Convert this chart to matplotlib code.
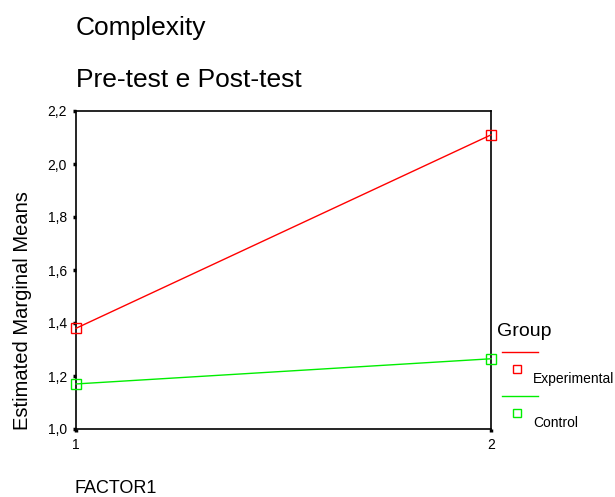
import numpy as np
import matplotlib.pyplot as plt
from matplotlib.lines import Line2D

plt.rcParams['font.family'] = ['Liberation Sans', 'DejaVu Sans']

# data
factor_levels = [1, 2]
groups = ['Experimental', 'Control']
means_experimental = [1.38, 2.11]
means_control = [1.17, 1.265]
group_colors = ['#ff0000', '#00ee00']
yticks = [1.0, 1.2, 1.4, 1.6, 1.8, 2.0, 2.2]

W, H = 615, 497
fig = plt.figure(figsize=(W/100, H/100), dpi=100)
ax = fig.add_axes([76/W, 1-429/H, (491-76)/W, (429-111)/H])

for vals, col in zip([means_experimental, means_control], group_colors):
    ax.plot(factor_levels, vals, color=col, lw=1, marker='s', ms=6.5,
            mfc='none', mec=col, mew=1, clip_on=False, zorder=3)

ax.set_xlim(1, 2)
ax.set_ylim(1.0, 2.2)
ax.set_xticks(factor_levels)
ax.set_xticklabels([str(v) for v in factor_levels])
ax.set_yticks(yticks)
ax.set_yticklabels([f'{v:.1f}'.replace('.', ',') for v in yticks])
ax.tick_params(direction='out', length=2.5, width=2.5, labelsize=10, pad=4)
for s in ax.spines.values():
    s.set_linewidth(1.2)

# titles and axis labels
fig.text(76/W, 1-35/H, 'Complexity', fontsize=19, va='baseline', ha='left')
fig.text(76/W, 1-87/H, 'Pre-test e Post-test', fontsize=19, va='baseline', ha='left')
fig.text(75/W, 1-493/H, 'FACTOR1', fontsize=13, va='baseline', ha='left')
fig.text(23/W, 1-311/H, 'Estimated Marginal Means', fontsize=14.5, rotation=90,
         va='center', ha='center')

# legend drawn by hand to mimic the layout
fig.text(497/W, 1-336/H, 'Group', fontsize=14, va='baseline', ha='left')
line_y = [352, 396]
for i, (name, col) in enumerate(zip(groups, group_colors)):
    ly = 1 - line_y[i]/H
    fig.add_artist(Line2D([502/W, 538/W], [ly, ly], color=col, lw=1))
    my = 1 - (line_y[i] + 17)/H
    fig.add_artist(Line2D([517/W], [my], marker='s', ms=6, mfc='none', mec=col, mew=1))
    fig.text(533/W, 1 - (line_y[i] + 31)/H, name, fontsize=10, va='baseline', ha='left')

fig.savefig('out.png', dpi=100)
